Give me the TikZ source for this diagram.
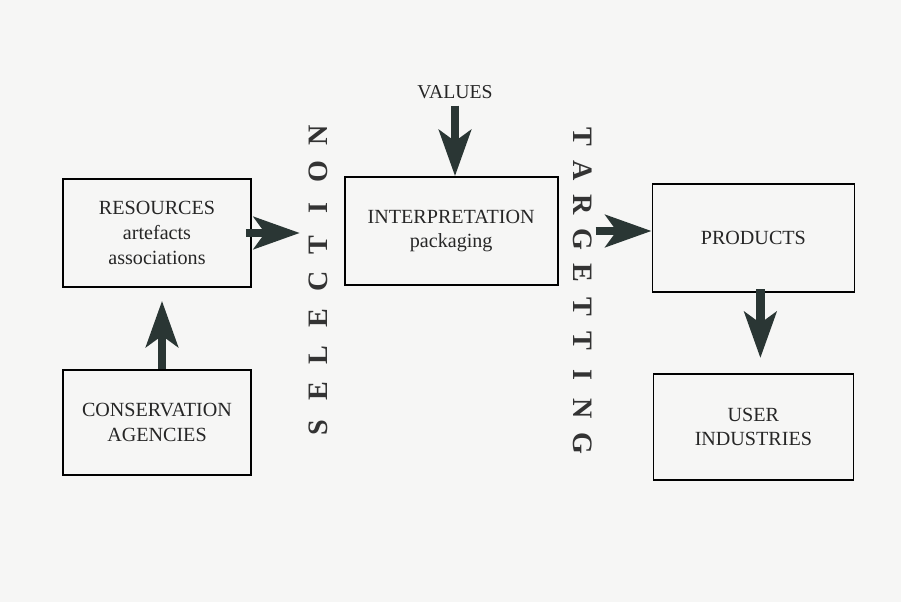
\documentclass[tikz,border=0pt]{standalone}
\usepackage{fontspec}
\setmainfont{Liberation Serif}
\usepackage{xcolor}
\definecolor{arrowgray}{RGB}{42, 54, 52}
\definecolor{paper}{RGB}{246, 246, 245}
\usepackage{tikz}
\usetikzlibrary{
    arrows.meta,
    positioning
}
\tikzstyle{fatarrow} = [
    draw=arrowgray,
    line width=0.21cm,
    -{Stealth[length=1.15cm, width=0.8cm, inset=0.28cm]}
]

\begin{document}
\begin{tikzpicture}[
  box/.style={draw, line width=1.2pt, minimum width=4.7cm, minimum height=2.7cm,
              align=center, font=\fontsize{14.3}{17.5}\selectfont, text=black!85},
  spaced/.style={font=\fontsize{20}{20}\selectfont\bfseries, text=black!80,
                 text height=0.66em, text depth=0pt, inner sep=0pt},
  valtext/.style={font=\fontsize{14}{17}\selectfont, text=black!85}
]
\useasboundingbox[fill=paper] (0,0) rectangle (22.525,-15.05);

\node[box] (res) at (3.925,-5.825) {RESOURCES\\artefacts\\associations};
\node[box, minimum height=2.63cm] (cons) [below=2.025cm of res] {CONSERVATION\\AGENCIES};
\node[box, minimum width=5.325cm] (interp) [right=2.3cm of res, yshift=0.05cm] {INTERPRETATION\\packaging};
\node[box, minimum width=5.05cm] (prod) [right=2.325cm of interp, yshift=-0.18cm] {PRODUCTS};
\node[box, minimum width=5cm, minimum height=2.65cm] (user) [below=2cm of prod] {USER\\INDUSTRIES};
\node[valtext] (values) at (11.375,-2.3) {VALUES};

% vertical lettering
\foreach \ch [count=\i from 0] in {S,E,L,E,C,T,I,O,N}
  \node[spaced, rotate=90] (sel\i) at (8.06,{-10.7+\i*0.915}) {\ch};
\foreach \ch [count=\i from 0] in {T,A,R,G,E,T,T,I,N,G}
  \node[spaced, rotate=-90] (tgt\i) at (14.46,{-3.425-\i*0.85}) {\ch};

\draw[fatarrow, shorten >=0.325cm] ([xshift=0.125cm]cons.north) -- ([xshift=0.125cm]res.south);
\draw[fatarrow, shorten <=-0.15cm, shorten >=1.1cm] (res.east) -- (res.east -| interp.west);
\draw[fatarrow, shorten <=0.05cm] (values.south) -- (values.south |- interp.north);
\draw[fatarrow, shorten <=0.925cm] (interp.east) -- (interp.east -| prod.west);
\draw[fatarrow, shorten <=-0.1cm, shorten >=0.375cm] ([xshift=0.175cm]prod.south) -- ([xshift=0.175cm]user.north);

\end{tikzpicture}
\end{document}
